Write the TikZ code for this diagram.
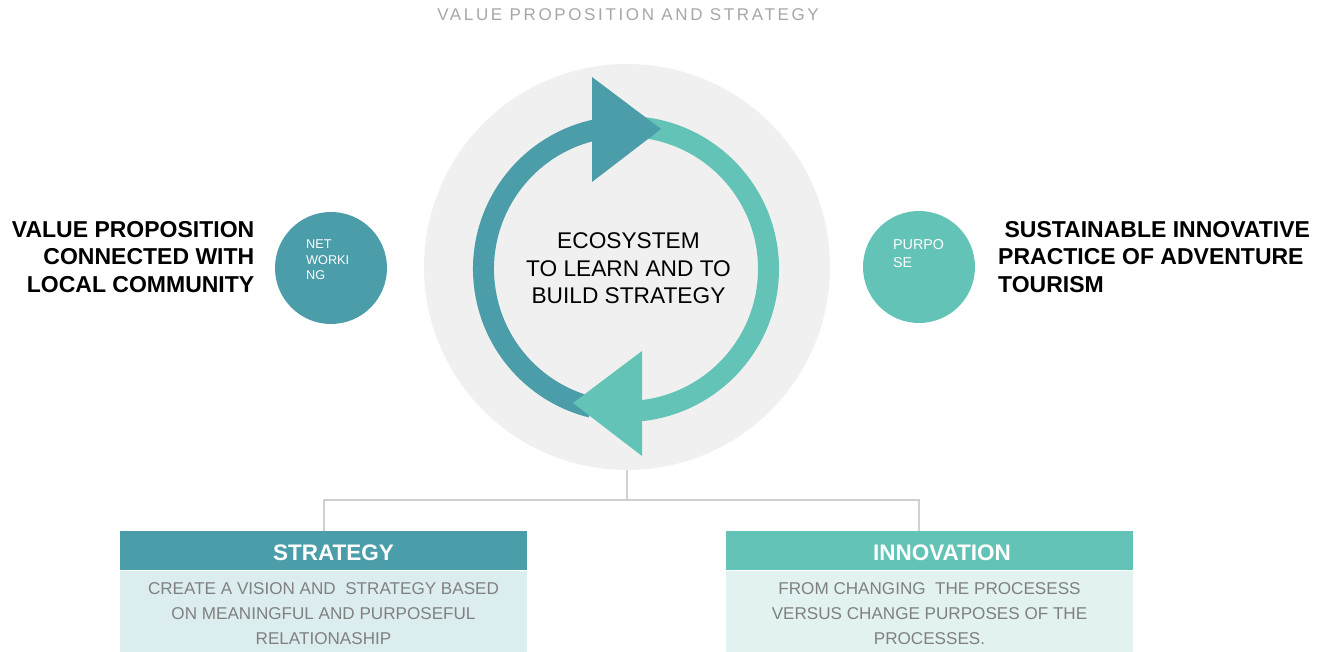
\documentclass[tikz,border=0pt]{standalone}
\usepackage{fontspec}
\setmainfont{Liberation Sans}
\definecolor{darkteal}{HTML}{4A9DA9}
\definecolor{lightteal}{HTML}{63C3B6}
\definecolor{graybg}{HTML}{F0F0F0}
\definecolor{linegray}{HTML}{D0D0D0}
\definecolor{bodyA}{HTML}{DCEDEF}
\definecolor{bodyB}{HTML}{E2F2F0}
\definecolor{titlegray}{HTML}{A6A6A6}
\definecolor{bodytext}{HTML}{808080}
\tikzset{
  conn/.style={draw=linegray, line width=2},
  ring/.style={line width=21},
  headbox/.style={minimum width=407, minimum height=39, inner sep=0, anchor=north},
  headtxt/.style={inner sep=0, text=white, font=\fontsize{22.5}{27}\selectfont\bfseries},
  bodybox/.style={minimum width=407, minimum height=81, inner sep=0, anchor=north},
  bodytxt/.style={inner sep=0, align=center, text=bodytext, font=\fontsize{17.1}{25}\selectfont},
  sidetxt/.style={inner sep=0, font=\fontsize{23}{27.5}\selectfont\bfseries},
  smallc/.style={circle, minimum size=112, inner sep=0},
  ctxt/.style={inner sep=0, align=left, text=white, anchor=north west}
}
\begin{document}
\begin{tikzpicture}[x=1pt,y=1pt]
\useasboundingbox (0,0) rectangle (1328,651);
% title
\node[inner sep=0, text=titlegray, font=\fontsize{17}{20}\selectfont\addfontfeature{LetterSpace=15.5}] (title) at (628,636.5) {VALUE PROPOSITION AND STRATEGY};
% big gray circle
\node[circle, fill=graybg, minimum size=406, inner sep=0] (bigc) at (627,384) {};
% ring arcs
\draw[ring, lightteal] (626,382) ++(85:142.5) arc[start angle=85, end angle=-84, radius=142.5];
\draw[ring, darkteal] (626,382) ++(101:142.5) arc[start angle=101, end angle=256, radius=142.5];
% arrow heads
\fill[darkteal] (592,574) -- (661,522) -- (592,469) -- cycle;
\fill[lightteal] (642,300) -- (573,248) -- (642,195) -- cycle;
% center text
\node[inner sep=0, align=center, font=\fontsize{22.7}{27.5}\selectfont] (eco) at (628.5,382.5) {ECOSYSTEM\\TO LEARN AND TO\\BUILD STRATEGY};
% side texts
\node[sidetxt, align=right, anchor=east] (vp) at (254.5,394) {VALUE PROPOSITION\\CONNECTED WITH\\LOCAL COMMUNITY};
\node[sidetxt, align=left, anchor=west] (sip) at (998,394) {\ SUSTAINABLE INNOVATIVE\\PRACTICE OF ADVENTURE\\TOURISM};
% small circles
\node[smallc, fill=darkteal] (net) at (331,383) {};
\node[ctxt, font=\fontsize{12.7}{15.2}\selectfont] (nettxt) at (306,411) {NET\\WORKI\\NG};
\node[smallc, fill=lightteal] (pur) at (919,384) {};
\node[ctxt, font=\fontsize{14.3}{18}\selectfont] (purtxt) at (893,411.5) {PURPO\\SE};
% boxes
\node[headbox, fill=darkteal] (sh) at (323.5,120) {};
\node[headtxt] (shtxt) at (333.5,98) {STRATEGY};
\node[bodybox, fill=bodyA] (sb) at (sh.south) {};
\node[bodytxt] (st) at (323.5,37) {CREATE A VISION AND \ STRATEGY BASED\\ON MEANINGFUL AND PURPOSEFUL\\RELATIONASHIP};
\node[headbox, fill=lightteal] (ih) at (929.5,120) {};
\node[headtxt] (ihtxt) at (942,98) {INNOVATION};
\node[bodybox, fill=bodyB] (ib) at (ih.south) {};
\node[bodytxt] (it) at (929.5,37) {FROM CHANGING \ THE PROCESESS\\VERSUS CHANGE PURPOSES OF THE\\PROCESSES.};
% connectors
\coordinate (innodrop) at (919,120);
\coordinate (split) at (627,151);
\draw[conn] (bigc.south) -- (split);
\draw[conn] (split) -| (sh.north);
\draw[conn] (split) -| (innodrop);
\end{tikzpicture}
\end{document}
